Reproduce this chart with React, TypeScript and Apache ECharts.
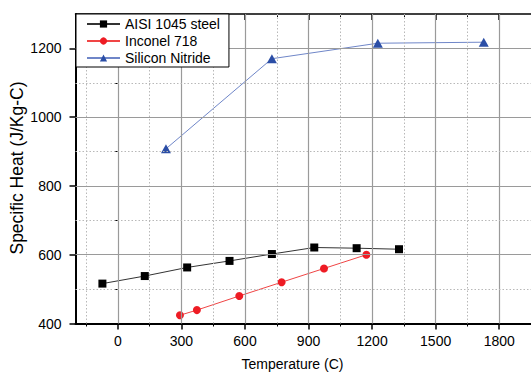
import React, { useEffect, useRef } from "react";
import * as echarts from "echarts";

// Data
const steelTemps = [-73, 127, 327, 527, 727, 927, 1127, 1327];
const steelHeat = [516, 538, 563, 582, 602, 621, 619, 616];
const inconelTemps = [293, 373, 573, 773, 973, 1173];
const inconelHeat = [424, 439, 480, 520, 560, 600];
const nitrideTemps = [227, 727, 1227, 1727];
const nitrideHeat = [908, 1170, 1215, 1218];

const seriesNames = ["AISI 1045 steel", "Inconel 718", "Silicon Nitride"];

const xMajorTicks = [0, 300, 600, 900, 1200, 1500, 1800];
const xMinorTicks = [-150, 150, 450, 750, 1050, 1350, 1650];
const yMajorTicks = [400, 600, 800, 1000, 1200];
const yMinorTicks = [500, 700, 900, 1100];

const FONT = "'Liberation Sans', Arial, sans-serif";

function pairs(xs: number[], ys: number[]) {
  return xs.map((x, i) => [x, ys[i]]);
}

const plain = (v: number) => String(v);

export default function App() {
  const ref = useRef<HTMLDivElement>(null);
  useEffect(() => {
    if (!ref.current) return;
    const chart = echarts.init(ref.current, undefined, { renderer: "svg" });
    const xBase = { type: "value" as const, min: -200, max: 1950, gridIndex: 0 };
    const yBase = { type: "value" as const, min: 400, max: 1300, gridIndex: 0 };
    const majorStyle = { color: "#9a9a9a", width: 1.2, type: "solid" as const };
    const minorStyle = { color: "#b8b8b8", width: 1, type: [1.5, 2] as any };
    const gridLines = [
      ...xMajorTicks.map((v) => ({ xAxis: v, lineStyle: majorStyle })),
      ...xMinorTicks.map((v) => ({ xAxis: v, lineStyle: minorStyle })),
      ...yMajorTicks.filter((v) => v > 400).map((v) => ({ yAxis: v, lineStyle: majorStyle })),
      ...yMinorTicks.map((v) => ({ yAxis: v, lineStyle: minorStyle })),
    ];
    chart.setOption({
      animation: false,
      backgroundColor: "#ffffff",
      grid: { left: 75.5, top: 14, width: 470, height: 309.5, containLabel: false },
      legend: {
        orient: "vertical",
        left: 76,
        top: 14,
        padding: [3, 9, 2, 10],
        itemWidth: 33,
        itemHeight: 9,
        itemGap: 3,
        backgroundColor: "#ffffff",
        borderColor: "#000000",
        borderWidth: 1,
        borderRadius: 0,
        textStyle: { fontSize: 14, lineHeight: 14, color: "#000", fontFamily: FONT },
        data: seriesNames,
        z: 10,
      },
      xAxis: [
        {
          ...xBase,
          position: "bottom",
          axisLine: { show: true, onZero: false, lineStyle: { color: "#000", width: 2 } },
          axisTick: { show: true, customValues: xMajorTicks, length: 6, lineStyle: { color: "#000", width: 1.5 } },
          axisLabel: { show: true, customValues: xMajorTicks, formatter: plain, fontSize: 14, color: "#000", margin: 10, fontFamily: FONT },
          splitLine: { show: false },
        },
        {
          ...xBase,
          position: "top",
          axisLine: { show: true, onZero: false, lineStyle: { color: "#000", width: 1.5 } },
          axisTick: { show: true, inside: true, customValues: xMajorTicks, length: 6, lineStyle: { color: "#000", width: 1.5 } },
          axisLabel: { show: false },
          splitLine: { show: false },
        },
        {
          ...xBase,
          position: "bottom",
          axisLine: { show: false },
          axisTick: { show: true, customValues: xMinorTicks, length: 3, lineStyle: { color: "#000", width: 1 } },
          axisLabel: { show: false },
          splitLine: { show: false },
        },
        {
          ...xBase,
          position: "top",
          axisLine: { show: false },
          axisTick: { show: true, inside: true, customValues: xMinorTicks, length: 3, lineStyle: { color: "#000", width: 1 } },
          axisLabel: { show: false },
          splitLine: { show: false },
        },
      ],
      yAxis: [
        {
          ...yBase,
          position: "left",
          axisLine: { show: true, onZero: false, lineStyle: { color: "#000", width: 2 } },
          axisTick: { show: true, customValues: yMajorTicks, length: 6, lineStyle: { color: "#000", width: 1.5 } },
          axisLabel: { show: true, customValues: yMajorTicks, formatter: plain, fontSize: 14, color: "#000", margin: 14, fontFamily: FONT },
          splitLine: { show: false },
        },
        {
          ...yBase,
          position: "left",
          axisLine: { show: false },
          axisTick: { show: true, customValues: yMinorTicks, length: 3, lineStyle: { color: "#000", width: 1 } },
          axisLabel: { show: false },
          splitLine: { show: false },
        },
      ],
      graphic: [
        {
          type: "text",
          x: 292.5,
          y: 363.5,
          style: { text: "Temperature (C)", fontSize: 14, fill: "#000", fontFamily: FONT, align: "center", verticalAlign: "middle" },
        },
        {
          type: "text",
          x: 17,
          y: 168,
          rotation: Math.PI / 2,
          style: { text: "Specific Heat (J/Kg-C)", fontSize: 17.5, fill: "#000", fontFamily: FONT, align: "center", verticalAlign: "middle" },
        },
      ],
      series: [
        {
          name: "grid",
          type: "line",
          xAxisIndex: 0,
          yAxisIndex: 0,
          data: [],
          silent: true,
          z: 1,
          markLine: {
            silent: true,
            symbol: ["none", "none"],
            label: { show: false },
            animation: false,
            data: gridLines,
          },
        },
        {
          name: seriesNames[0],
          type: "line",
          xAxisIndex: 0,
          yAxisIndex: 0,
          data: pairs(steelTemps, steelHeat),
          symbol: "rect",
          symbolSize: 8,
          itemStyle: { color: "#000000" },
          lineStyle: { color: "#333333", width: 1 },
          z: 3,
        },
        {
          name: seriesNames[1],
          type: "line",
          xAxisIndex: 0,
          yAxisIndex: 0,
          data: pairs(inconelTemps, inconelHeat),
          symbol: "circle",
          symbolSize: 8,
          itemStyle: { color: "#ee1c24" },
          lineStyle: { color: "#f04545", width: 1 },
          z: 3,
        },
        {
          name: seriesNames[2],
          type: "line",
          xAxisIndex: 0,
          yAxisIndex: 0,
          data: pairs(nitrideTemps, nitrideHeat),
          symbol: "triangle",
          symbolSize: [10, 9],
          itemStyle: { color: "#2b4ea6" },
          lineStyle: { color: "#6f86c8", width: 1 },
          z: 3,
        },
      ],
    });
    return () => chart.dispose();
  }, []);
  return <div ref={ref} style={{ position: "fixed", left: 0, top: 0, width: 531, height: 376 }} />;
}
